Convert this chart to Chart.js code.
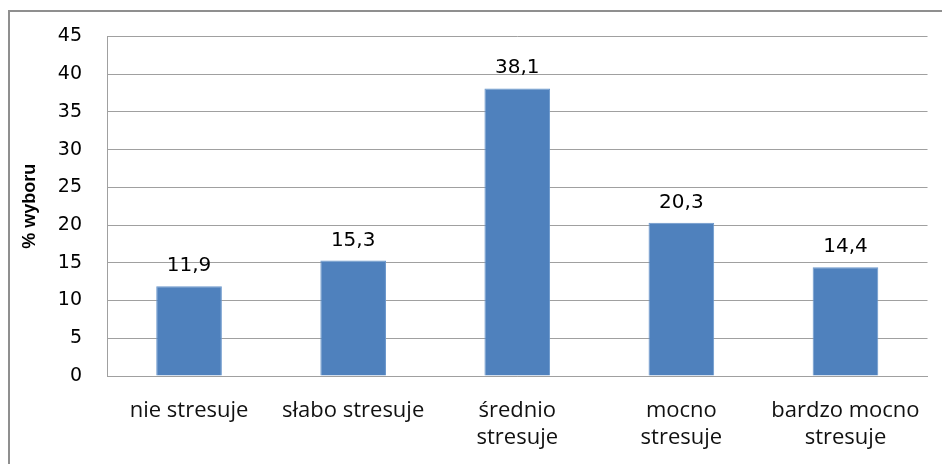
<!DOCTYPE html>
<html>
<head>
<meta charset="utf-8">
<script src="https://cdn.jsdelivr.net/npm/chart.js@4/dist/chart.umd.min.js"></script>
<style>
  html, body { margin: 0; padding: 0; background: #fff; }
  #wrap { width: 942px; height: 464px; position: relative; }
</style>
</head>
<body>
<div id="wrap"><canvas id="stressChart"></canvas></div>
<script>
const categories = [
    'nie stresuje',
    'słabo stresuje',
    ['średnio', 'stresuje'],
    ['mocno', 'stresuje'],
    ['bardzo mocno', 'stresuje']
];
const percentValues = [11.9, 15.3, 38.1, 20.3, 14.4];
const yTicks = [0, 5, 10, 15, 20, 25, 30, 35, 40, 45];

const gridGray = '#a0a0a0';

// frame around the whole chart (top and left edges are visible)
const frame = {
    id: 'frame',
    beforeDraw(chart) {
        const ctx = chart.ctx;
        ctx.save();
        ctx.strokeStyle = '#8f8f8f';
        ctx.lineWidth = 2;
        ctx.strokeRect(9, 11, 960, 480);
        ctx.restore();
    }
};

// value above each bar, with comma decimal separator
const barValues = {
    id: 'barValues',
    afterDatasetsDraw(chart) {
        const ctx = chart.ctx;
        const meta = chart.getDatasetMeta(0);
        ctx.save();
        ctx.font = '20px "DejaVu Sans"';
        ctx.fillStyle = '#000';
        ctx.textAlign = 'center';
        ctx.textBaseline = 'alphabetic';
        meta.data.forEach((bar, i) => {
            const txt = percentValues[i].toFixed(1).replace('.', ',');
            ctx.fillText(txt, bar.x, bar.y - 15);
        });
        ctx.restore();
    }
};

new Chart(document.getElementById('stressChart'), {
    type: 'bar',
    data: {
        labels: categories,
        datasets: [{
            label: '% wyboru',
            data: percentValues,
            backgroundColor: '#4f81bd',
            borderColor: '#6a97cc',
            borderWidth: 1,
            barPercentage: 0.4,
            categoryPercentage: 1
        }]
    },
    options: {
        responsive: true,
        maintainAspectRatio: false,
        animation: false,
        layout: { padding: { top: 30, right: 14, bottom: 0, left: 0 } },
        plugins: {
            legend: { display: false },
            tooltip: { enabled: false }
        },
        scales: {
            x: {
                grid: { display: false, drawTicks: false },
                border: { display: true, color: gridGray },
                ticks: {
                    color: '#111',
                    padding: 21,
                    maxRotation: 0,
                    autoSkip: false,
                    font: { family: '"Open Sans"', size: 22, lineHeight: 1.23 }
                },
                afterFit(scale) { scale.height = 88; }
            },
            y: {
                min: 0,
                max: 45,
                afterBuildTicks(scale) { scale.ticks = yTicks.map(v => ({ value: v })); },
                grid: { color: gridGray, drawTicks: false },
                border: { display: true, color: gridGray },
                ticks: {
                    color: '#000',
                    padding: 25,
                    font: { family: '"DejaVu Sans"', size: 19 }
                },
                title: {
                    display: true,
                    text: '% wyboru',
                    color: '#000',
                    padding: { top: 19, bottom: 0 },
                    font: { family: '"Liberation Sans"', size: 18, weight: 'bold' }
                },
                afterFit(scale) { scale.width = 107; }
            }
        }
    },
    plugins: [frame, barValues]
});
</script>
</body>
</html>
